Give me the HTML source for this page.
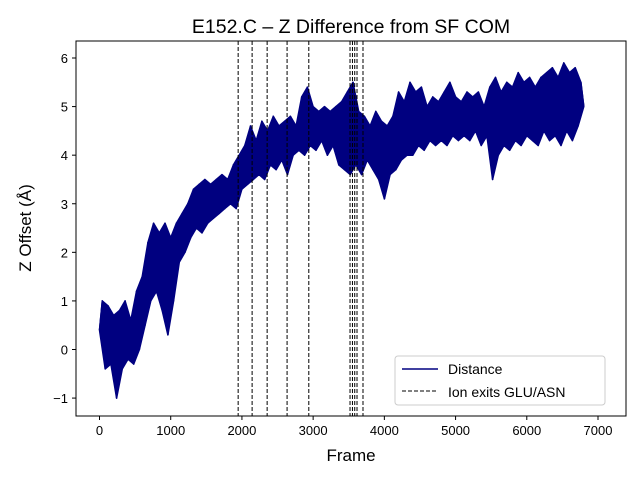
<!DOCTYPE html>
<html><head><meta charset="utf-8"><style>
body{margin:0;background:#fff;}
svg{font-family:"Liberation Sans","DejaVu Sans",sans-serif;}
</style></head><body>
<svg id="chart" width="640" height="480">
<text x="351" y="33" text-anchor="middle" font-size="19.5">E152.C – Z Difference from SF COM</text>
<g id="plot"></g>
<rect x="76" y="41" width="550" height="375" fill="none" stroke="#000" stroke-width="1"/>
<text x="351" y="461" text-anchor="middle" font-size="17">Frame</text>
<text transform="translate(31,228) rotate(-90)" text-anchor="middle" font-size="17">Z Offset (Å)</text>
<g>
<rect x="395" y="356" width="210" height="49" rx="3" fill="#fff" fill-opacity="0.8" stroke="#ccc"/>
<line x1="402" y1="369" x2="438" y2="369" stroke="#000080" stroke-width="1.5"/>
<text x="448" y="374" font-size="14">Distance</text>
<line x1="402" y1="391" x2="438" y2="391" stroke="#000" stroke-width="1" stroke-dasharray="4,2"/>
<text x="448" y="397" font-size="14">Ion exits GLU/ASN</text>
</g>
</svg>
<script>
const frameStep = 40;
const zOffset = [
0.4,1.0,-0.4,0.9,-0.3,0.7,-1.0,0.8,-0.4,1.0,
-0.2,0.6,-0.3,1.2,0.0,1.5,0.5,2.2,1.0,2.6,
1.2,2.4,0.8,2.6,0.3,2.3,1.0,2.6,1.8,2.8,
2.0,3.0,2.3,3.3,2.5,3.4,2.4,3.5,2.6,3.4,
2.7,3.5,2.8,3.6,2.9,3.5,3.0,3.8,2.9,4.0,
3.3,4.2,3.4,4.6,3.5,4.3,3.6,4.7,3.5,4.5,
3.8,4.8,3.7,4.6,3.9,4.7,3.6,4.8,4.0,4.6,
4.1,5.2,4.0,5.4,4.2,5.0,4.1,4.9,4.3,5.0,
4.0,4.9,4.2,5.0,3.8,5.1,3.7,5.3,3.6,5.5,
3.8,4.9,3.6,4.8,3.9,4.6,3.7,4.9,3.5,4.7,
3.1,4.6,3.6,4.8,3.7,5.3,3.9,5.1,4.0,5.5,
4.0,5.3,4.2,5.4,4.1,5.0,4.3,5.2,4.2,5.1,
4.3,5.3,4.2,5.5,4.4,5.2,4.3,5.1,4.4,5.3,
4.3,5.2,4.5,5.3,4.2,5.0,4.4,5.4,3.5,5.6,
4.0,5.3,4.2,5.5,4.1,5.4,4.3,5.7,4.2,5.5,
4.4,5.6,4.3,5.4,4.2,5.6,4.5,5.7,4.3,5.8,
4.4,5.6,4.2,5.9,4.5,5.7,4.3,5.8,4.6,5.5,
5.0];
const ionExitFrames = [1947,2143,2354,2634,2939,3518,3552,3584,3616,3700];
const xTicks = [0,1000,2000,3000,4000,5000,6000,7000];
const yTicks = [-1,0,1,2,3,4,5,6];

const NS = "http://www.w3.org/2000/svg";
const plot = document.getElementById('plot');
const xScale = f => 99.5 + f * (598 - 99.5) / 7000;
const yScale = v => 349.5 - v * (349.5 - 58) / 6;
function mk(tag, attrs){const e=document.createElementNS(NS,tag);for(const k in attrs)e.setAttribute(k,attrs[k]);plot.appendChild(e);return e;}

// fluctuation band: upper edge through odd samples (peaks), lower edge through even samples (troughs)
const upper = [], lower = [];
zOffset.forEach((v,i)=>{
  const p = xScale(i*frameStep).toFixed(1) + ',' + yScale(v).toFixed(1);
  if (i % 2) upper.push(p); else lower.push(p);
});
const band = mk('polygon',{points: upper.concat(lower.slice().reverse()).join(' '), fill:'#000080', stroke:'#000080','stroke-width':1.5,'stroke-linejoin':'round'});



let d = '';
zOffset.forEach((v,i)=>{d += (i?'L':'M') + xScale(i*frameStep).toFixed(1) + ',' + yScale(v).toFixed(1);});
const line = mk('path',{d:d,fill:'none',stroke:'#000080','stroke-width':1.5,'stroke-linejoin':'round'});



ionExitFrames.forEach(f=>{
  const l = mk('line',{x1:xScale(f),x2:xScale(f),y1:41,y2:416,stroke:'#000','stroke-width':1,'stroke-dasharray':'4,2'});
  
  
});

xTicks.forEach(t=>{
  const x = xScale(t);
  const tk = mk('line',{x1:x,x2:x,y1:416,y2:420,stroke:'#000'});
  
  
  const tx = mk('text',{x:x,y:435,'text-anchor':'middle','font-size':13});
  tx.textContent = t;
  
  
});
yTicks.forEach(t=>{
  const y = yScale(t);
  const tk = mk('line',{x1:72,x2:76,y1:y,y2:y,stroke:'#000'});
  
  
  const tx = mk('text',{x:68,y:y+5,'text-anchor':'end','font-size':13});
  tx.textContent = t < 0 ? '\u2212' + Math.abs(t) : t;
  
  
});
</script>
</body></html>
